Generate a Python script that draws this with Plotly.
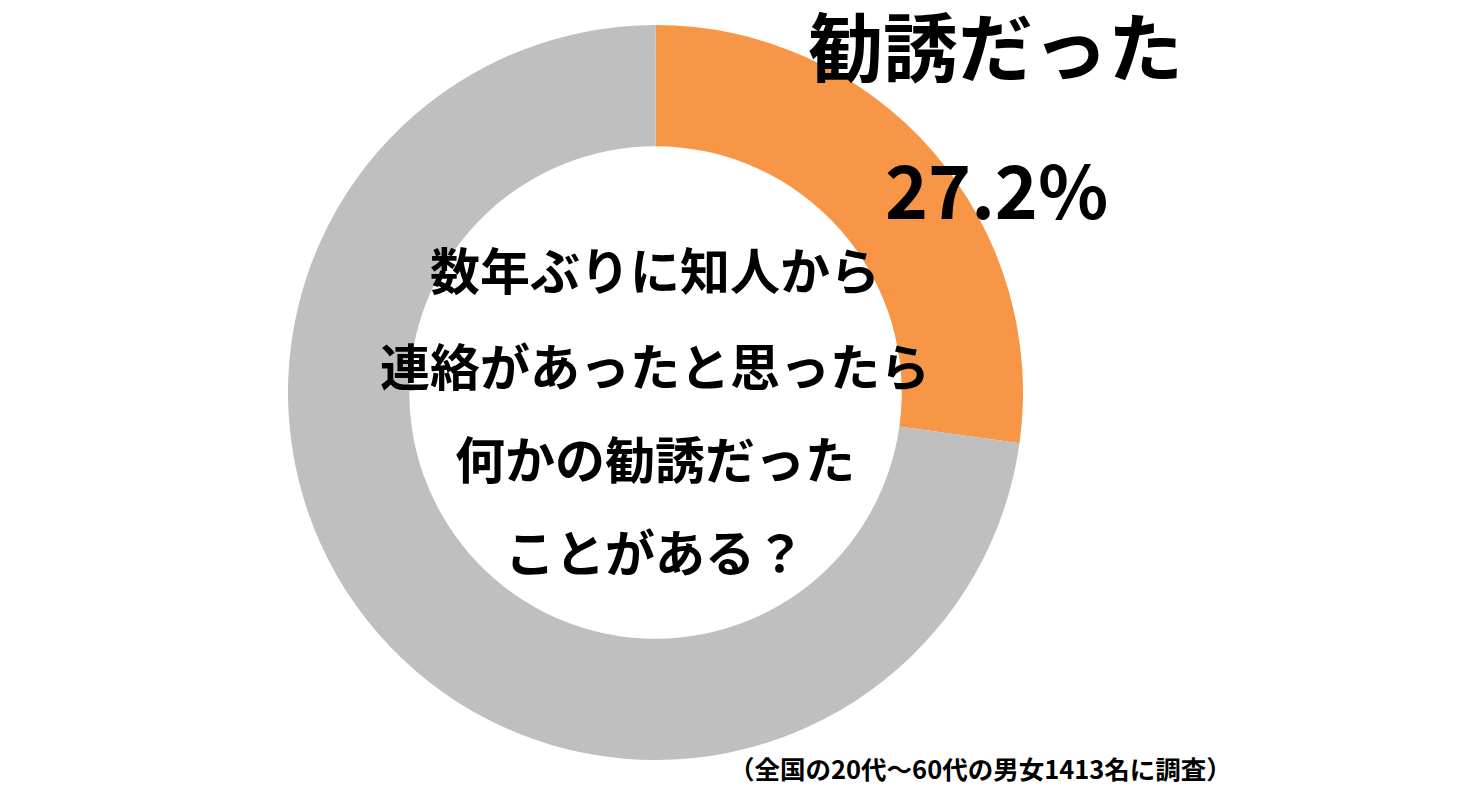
import plotly.graph_objects as go

# survey result
labels = ["勧誘だった", "その他"]
values = [27.2, 72.8]
colors = ["#F79646", "#BFBFBF"]

question_lines = ["数年ぶりに知人から", "連絡があったと思ったら", "何かの勧誘だった", "ことがある？"]
footnote = "（全国の20代～60代の男女1413名に調査）"

# page body has an 8px margin, so the figure starts at (8, 8) in the window
OFF = 8
W, H = 1461 - OFF, 787 - OFF
FONT = "Noto Sans CJK JP"


def px_x(x):
    # x in window pixels -> paper coords
    return (x - OFF) / W


def px_y(y):
    return 1 - (y - OFF) / H


fig = go.Figure(go.Pie(
    labels=labels,
    values=values,
    marker=dict(colors=colors, line=dict(width=0)),
    hole=0.67,
    sort=False,
    direction="clockwise",
    rotation=0,
    textinfo="none",
    hoverinfo="label+percent",
    domain=dict(x=[px_x(288), px_x(1023)], y=[px_y(760), px_y(25)]),
))

annots = []
# big label for the highlighted slice
annots.append(dict(text=labels[0], x=px_x(995), y=px_y(43),
                   font=dict(size=75, color="black", family=FONT, weight=700)))
annots.append(dict(text=f"{values[0]}%", x=px_x(996), y=px_y(187),
                   font=dict(size=73, color="black", family=FONT, weight=700)))

# question in the hole
line_y = [268, 364, 457, 550]
for txt, yy in zip(question_lines, line_y):
    annots.append(dict(text=txt, x=px_x(655), y=px_y(yy),
                       font=dict(size=50, color="black", family=FONT, weight=700)))

annots.append(dict(text=footnote, x=px_x(980), y=px_y(767),
                   font=dict(size=25.5, color="black", family=FONT, weight=700)))

for a in annots:
    a.update(xref="paper", yref="paper", showarrow=False,
             xanchor="center", yanchor="middle")

fig.update_layout(
    width=W, height=H,
    margin=dict(l=0, r=0, t=0, b=0),
    paper_bgcolor="white",
    showlegend=False,
    annotations=annots,
)

fig.write_html("out.html")
